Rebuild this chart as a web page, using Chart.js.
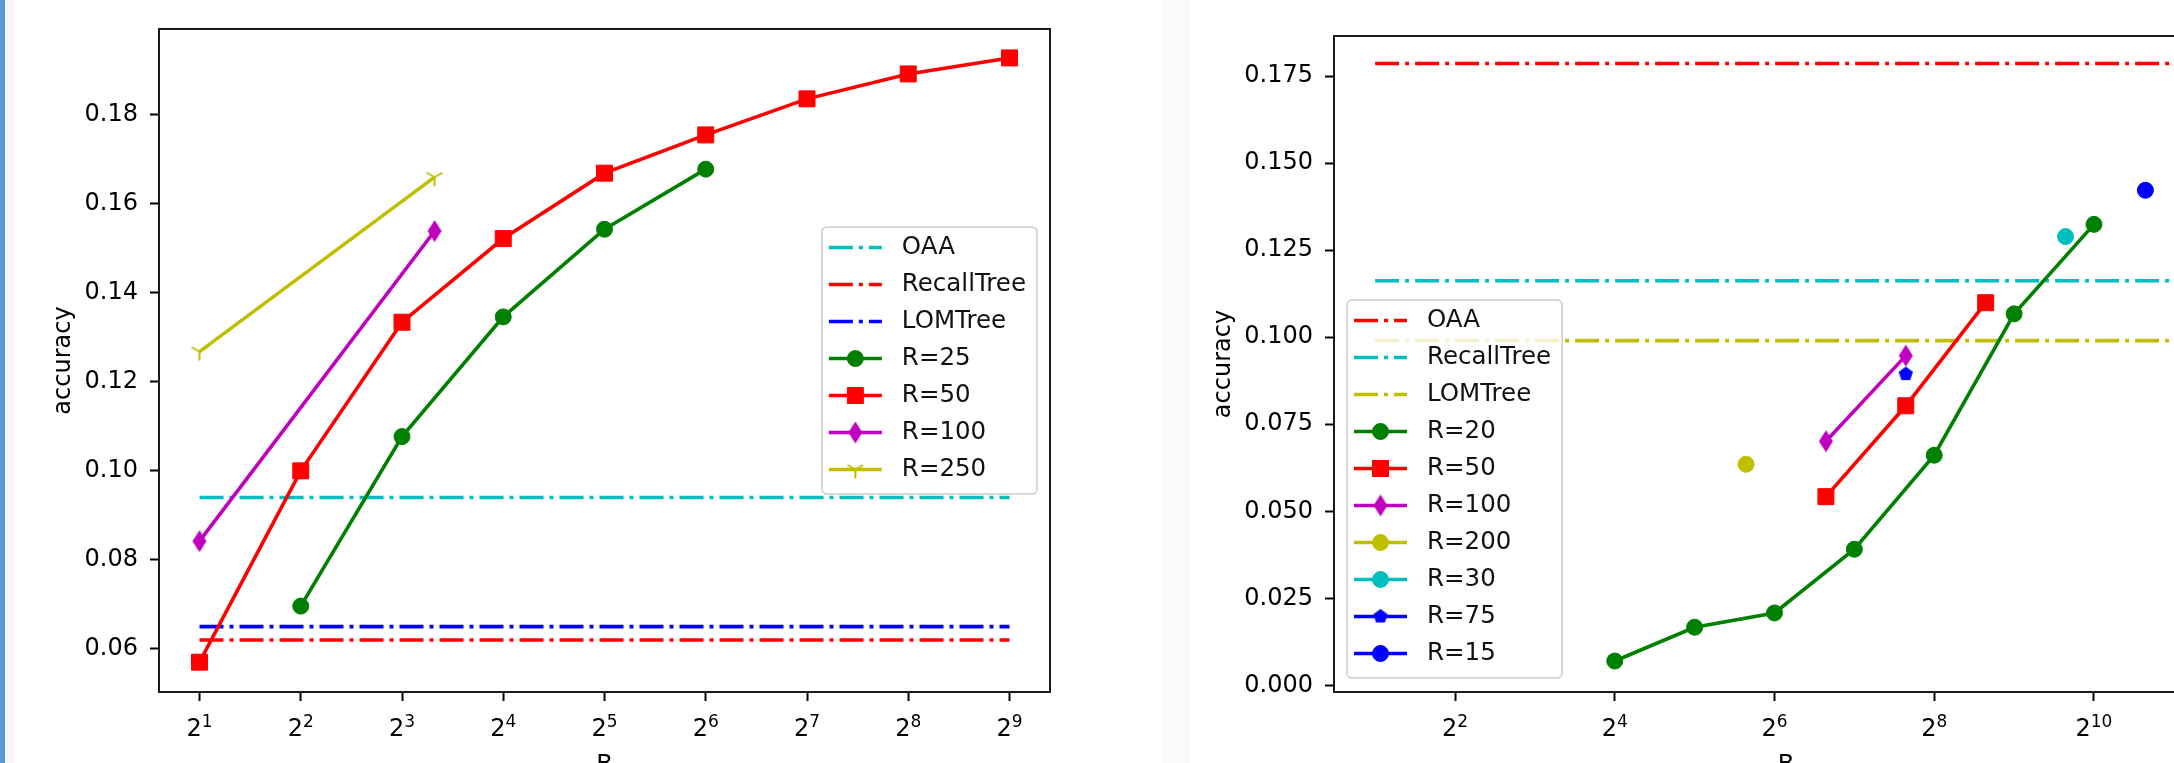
<!DOCTYPE html>
<html>
<head>
<meta charset="utf-8">
<script src="https://cdn.jsdelivr.net/npm/chart.js@4.4.1/dist/chart.umd.min.js"></script>
<style>
  html, body { margin: 0; padding: 0; background: #fff; overflow: hidden; width: 2174px; height: 763px; }
  #edge { position: absolute; left: 0; top: 0; width: 5px; height: 763px; background: #5b9bd5; }
  #edgeShade { position: absolute; left: 5px; top: 0; width: 10px; height: 763px; background: #f7f7f7; }
  #gap { position: absolute; left: 1163px; top: 0; width: 27px; height: 763px; background: #fafafa; }
  #leftChart { position: absolute; left: 0; top: 0; }
  #rightChart { position: absolute; left: 1100px; top: 0; }
</style>
</head>
<body>
<div id="edge"></div><div id="edgeShade"></div><div id="gap"></div>
<canvas id="leftChart" width="1100" height="800"></canvas>
<canvas id="rightChart" width="1200" height="800"></canvas>
<script>
// ---- left plot data (B on log2 axis, accuracy) ----
const leftTicksB = [2, 4, 8, 16, 32, 64, 128, 256, 512];
const leftYTicks = [0.06, 0.08, 0.10, 0.12, 0.14, 0.16, 0.18];
const leftLineB = [2, 512];
const leftOAA = 0.094;
const leftRecallTree = 0.062;
const leftLOMTree = 0.065;
const leftR25B = [4, 8, 16, 32, 64];
const leftR25Acc = [0.0696, 0.1077, 0.1346, 0.1543, 0.1678];
const leftR50B = [2, 4, 8, 16, 32, 64, 128, 256, 512];
const leftR50Acc = [0.0570, 0.1000, 0.1334, 0.1522, 0.1669, 0.1755, 0.1836, 0.1892, 0.1928];
const leftR100B = [2, 10];
const leftR100Acc = [0.0842, 0.1539];
const leftR250B = [2, 10];
const leftR250Acc = [0.1268, 0.1660];

// ---- right plot data ----
const rightTicksB = [4, 16, 64, 256, 1024];
const rightYTicks = [0, 0.025, 0.05, 0.075, 0.1, 0.125, 0.15, 0.175];
const rightLineB = [2, 2500];
const rightOAA = 0.1786;
const rightRecallTree = 0.1162;
const rightLOMTree = 0.0990;
const rightR20B = [16, 32, 64, 128, 256, 512, 1024];
const rightR20Acc = [0.0070, 0.0167, 0.0208, 0.0391, 0.0661, 0.1067, 0.1324];
const rightR50B = [100, 200, 400];
const rightR50Acc = [0.0542, 0.0803, 0.1099];
const rightR100B = [100, 200];
const rightR100Acc = [0.0701, 0.0947];
const rightR200B = [50];
const rightR200Acc = [0.0635];
const rightR30B = [800];
const rightR30Acc = [0.1289];
const rightR75B = [200];
const rightR75Acc = [0.0894];
const rightR15B = [1600];
const rightR15Acc = [0.1422];

const C = { c: '#00bfbf', r: '#ff0000', b: '#0000ff', g: '#008000', m: '#bf00bf', y: '#bfbf00' };
const FAMILY = "'DejaVu Sans', sans-serif";
const FONT = { family: FAMILY, size: 24 };
const LW = 3.6;
const DASHDOT = [24, 6, 4, 6];

function markerCanvas(size, draw) {
    const c = document.createElement('canvas');
    c.width = size; c.height = size;
    draw(c.getContext('2d'), size / 2);
    return c;
}
const thinDiamond = markerCanvas(26, (g, m) => {
    g.fillStyle = C.m;
    g.beginPath();
    g.moveTo(m, m - 11); g.lineTo(m + 7, m); g.lineTo(m, m + 11); g.lineTo(m - 7, m);
    g.closePath(); g.fill();
});
const triDown = markerCanvas(26, (g, m) => {
    g.strokeStyle = C.y; g.lineWidth = 2;
    g.beginPath();
    g.moveTo(m, m); g.lineTo(m, m + 9);
    g.moveTo(m, m); g.lineTo(m - 7.8, m - 4.5);
    g.moveTo(m, m); g.lineTo(m + 7.8, m - 4.5);
    g.stroke();
});
const pentagon = markerCanvas(22, (g, m) => {
    g.fillStyle = C.b;
    g.beginPath();
    for (let k = 0; k < 5; k++) {
        const a = -Math.PI / 2 + k * 2 * Math.PI / 5;
        g.lineTo(m + 7.5 * Math.cos(a), m + 7.5 * Math.sin(a));
    }
    g.closePath(); g.fill();
});

const pts = (bs, accs) => bs.map((b, i) => ({ x: Math.log2(b), y: accs[i] }));
const flat = (bs, v) => bs.map(b => ({ x: Math.log2(b), y: v }));

function refLine(label, color, bs, v) {
    return { label, data: flat(bs, v), borderColor: color, backgroundColor: color,
        borderWidth: LW, borderDash: DASHDOT, pointRadius: 0, pointHoverRadius: 0 };
}
function series(label, color, style, radius, bs, accs) {
    return { label, data: pts(bs, accs), borderColor: color, backgroundColor: color,
        borderWidth: LW, pointStyle: style, pointRadius: radius, pointHoverRadius: radius,
        pointBorderWidth: 1, pointBorderColor: color, pointBackgroundColor: color };
}
// matplotlib draws later lines on top
function stack(sets) {
    sets.forEach((d, i) => { d.order = sets.length - i; });
    return sets;
}

function roundRectPath(ctx, x, y, w, h, r) {
    ctx.beginPath();
    ctx.moveTo(x + r, y);
    ctx.arcTo(x + w, y, x + w, y + h, r);
    ctx.arcTo(x + w, y + h, x, y + h, r);
    ctx.arcTo(x, y + h, x, y, r);
    ctx.arcTo(x, y, x + w, y, r);
    ctx.closePath();
}

function drawMarker(ctx, d, x, y) {
    const style = d.pointStyle;
    if (style instanceof HTMLCanvasElement) {
        ctx.drawImage(style, x - style.width / 2, y - style.height / 2);
        return;
    }
    ctx.fillStyle = d.pointBackgroundColor;
    ctx.strokeStyle = d.pointBorderColor;
    ctx.lineWidth = d.pointBorderWidth;
    if (Chart.helpers && Chart.helpers.drawPoint) {
        Chart.helpers.drawPoint(ctx, { pointStyle: style, radius: d.pointRadius, rotation: 0, borderWidth: d.pointBorderWidth }, x, y);
        return;
    }
    ctx.beginPath();
    if (style === 'rect') {
        const s = d.pointRadius * Math.SQRT1_2;
        ctx.rect(x - s, y - s, 2 * s, 2 * s);
    } else {
        ctx.arc(x, y, d.pointRadius, 0, Math.PI * 2);
    }
    ctx.fill(); ctx.stroke();
}

// axes box on all four sides
const axesFrame = {
    id: 'axesFrame',
    afterDatasetsDraw(chart) {
        const { ctx, chartArea: a } = chart;
        ctx.save();
        ctx.strokeStyle = '#1a1a1a';
        ctx.lineWidth = 2;
        ctx.strokeRect(a.left, a.top, a.right - a.left, a.bottom - a.top);
        ctx.restore();
    }
};

// x tick labels as 2 with a raised exponent, like mathtext
const powerTicks = {
    id: 'powerTicks',
    afterDraw(chart) {
        const s = chart.scales.x;
        const ctx = chart.ctx;
        const y0 = chart.chartArea.bottom + 44;
        ctx.save();
        ctx.fillStyle = '#000';
        ctx.textAlign = 'left';
        ctx.textBaseline = 'alphabetic';
        s.ticks.forEach(t => {
            const px = s.getPixelForValue(t.value);
            const exp = String(Math.round(t.value));
            ctx.font = '24px ' + FAMILY;
            const wb = ctx.measureText('2').width;
            ctx.font = '17px ' + FAMILY;
            const we = ctx.measureText(exp).width;
            const x0 = px - (wb + we) / 2;
            ctx.font = '24px ' + FAMILY;
            ctx.fillText('2', x0, y0);
            ctx.font = '17px ' + FAMILY;
            ctx.fillText(exp, x0 + wb, y0 - 9.5);
        });
        ctx.restore();
    }
};

// matplotlib style legend: framed box, line sample with marker
const mplLegend = {
    id: 'mplLegend',
    afterDraw(chart, args, opts) {
        const ctx = chart.ctx;
        const a = chart.chartArea;
        const sets = chart.data.datasets;
        ctx.save();
        ctx.font = '24.5px ' + FAMILY;
        const textW = Math.max(...sets.map(d => ctx.measureText(d.label).width));
        const w = 7 + 53 + 20 + textW + 11;
        const h = 8 + sets.length * 37;
        let x, y;
        if (opts.loc === 'center right') {
            x = a.right - 13 - w;
            y = (a.top + a.bottom) / 2 - h / 2;
        } else {
            x = a.left + 13;
            y = a.bottom - 14 - h;
        }
        roundRectPath(ctx, x, y, w, h, 5);
        ctx.fillStyle = 'rgba(255,255,255,0.8)';
        ctx.fill();
        ctx.strokeStyle = '#cccccc';
        ctx.lineWidth = 1.5;
        ctx.stroke();
        sets.forEach((d, i) => {
            const cy = y + 20.5 + i * 37;
            const x0 = x + 7, x1 = x0 + 53;
            ctx.beginPath();
            ctx.setLineDash(d.borderDash || []);
            ctx.lineWidth = d.borderWidth;
            ctx.strokeStyle = d.borderColor;
            ctx.moveTo(x0, cy); ctx.lineTo(x1, cy);
            ctx.stroke();
            ctx.setLineDash([]);
            if (d.pointRadius > 0) drawMarker(ctx, d, (x0 + x1) / 2, cy);
            ctx.fillStyle = '#111';
            ctx.textAlign = 'left';
            ctx.textBaseline = 'middle';
            ctx.fillText(d.label, x1 + 20, cy);
        });
        ctx.restore();
    }
};

function buildOptions(cfg) {
    const tickGrid = { drawOnChartArea: false, tickLength: 9, tickWidth: 2, tickColor: '#000' };
    return {
        responsive: false,
        animation: false,
        events: [],
        layout: { padding: { top: cfg.top, right: cfg.right, left: 0, bottom: 0 } },
        plugins: { legend: { display: false }, tooltip: { enabled: false }, mplLegend: { loc: cfg.legendLoc } },
        scales: {
            x: {
                type: 'linear', min: cfg.xMin, max: cfg.xMax,
                afterBuildTicks: s => { s.ticks = cfg.xTicks.map(b => ({ value: Math.log2(b) })); },
                afterFit: s => { s.height = 108; },
                ticks: { display: false, font: FONT, autoSkip: false },
                grid: tickGrid,
                border: { display: false },
                title: { display: true, text: 'B', font: FONT, color: '#000', padding: { top: 0, bottom: 20 } }
            },
            y: {
                type: 'linear', min: cfg.yMin, max: cfg.yMax,
                afterBuildTicks: s => { s.ticks = cfg.yTicks.map(v => ({ value: v })); },
                afterFit: s => { s.width = cfg.yWidth; },
                ticks: { callback: v => v.toFixed(cfg.yDigits), font: FONT, color: '#000', padding: 12 },
                grid: tickGrid,
                border: { display: false },
                title: { display: true, text: 'accuracy', font: FONT, color: '#000', padding: { top: cfg.titlePad, bottom: 0 } }
            }
        }
    };
}

Chart.defaults.font.family = FAMILY;

new Chart(document.getElementById('leftChart').getContext('2d'), {
    type: 'line',
    data: {
        datasets: stack([
            refLine('OAA', C.c, leftLineB, leftOAA),
            refLine('RecallTree', C.r, leftLineB, leftRecallTree),
            refLine('LOMTree', C.b, leftLineB, leftLOMTree),
            series('R=25', C.g, 'circle', 8, leftR25B, leftR25Acc),
            series('R=50', C.r, 'rect', 11.3, leftR50B, leftR50Acc),
            series('R=100', C.m, thinDiamond, 8, leftR100B, leftR100Acc),
            series('R=250', C.y, triDown, 8, leftR250B, leftR250Acc)
        ])
    },
    options: buildOptions({
        top: 29, right: 50, xMin: 0.6, xMax: 9.4, xTicks: leftTicksB,
        yMin: 0.0503, yMax: 0.1993, yTicks: leftYTicks, yDigits: 2,
        yWidth: 159, titlePad: 49, legendLoc: 'center right'
    }),
    plugins: [axesFrame, powerTicks, mplLegend]
});

new Chart(document.getElementById('rightChart').getContext('2d'), {
    type: 'line',
    data: {
        datasets: stack([
            refLine('OAA', C.r, rightLineB, rightOAA),
            refLine('RecallTree', C.c, rightLineB, rightRecallTree),
            refLine('LOMTree', C.y, rightLineB, rightLOMTree),
            series('R=20', C.g, 'circle', 8, rightR20B, rightR20Acc),
            series('R=50', C.r, 'rect', 11.3, rightR50B, rightR50Acc),
            series('R=100', C.m, thinDiamond, 8, rightR100B, rightR100Acc),
            series('R=200', C.y, 'circle', 8, rightR200B, rightR200Acc),
            series('R=30', C.c, 'circle', 8, rightR30B, rightR30Acc),
            series('R=75', C.b, pentagon, 8, rightR75B, rightR75Acc),
            series('R=15', C.b, 'circle', 8, rightR15B, rightR15Acc)
        ])
    },
    options: buildOptions({
        top: 36, right: 62, xMin: 0.485, xMax: 11.803, xTicks: rightTicksB,
        yMin: -0.0019, yMax: 0.1865, yTicks: rightYTicks, yDigits: 3,
        yWidth: 234, titlePad: 109, legendLoc: 'lower left'
    }),
    plugins: [axesFrame, powerTicks, mplLegend]
});
</script>
</body>
</html>
